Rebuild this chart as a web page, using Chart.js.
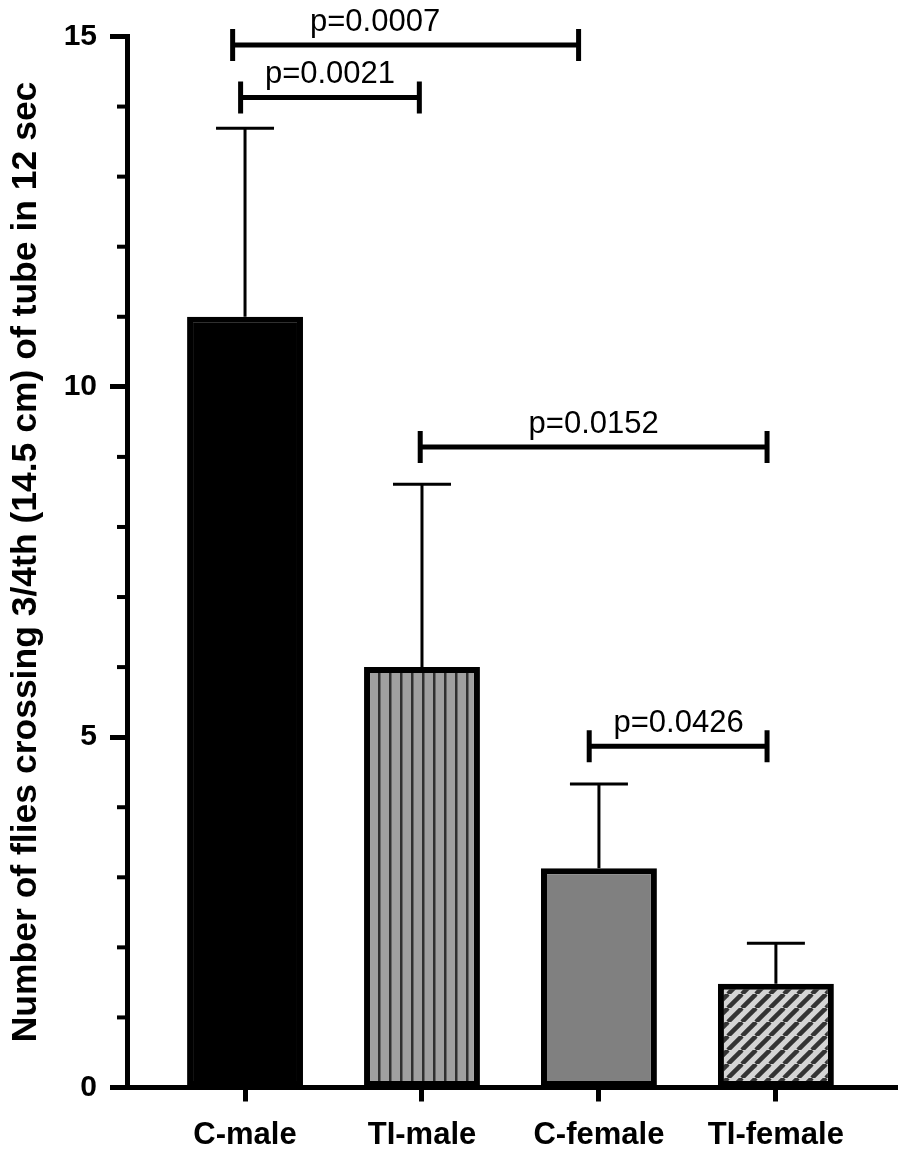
<!DOCTYPE html>
<html>
<head>
<meta charset="utf-8">
<script src="https://cdn.jsdelivr.net/npm/chart.js@4"></script>
<style>
  html, body { margin: 0; padding: 0; background: #fff; }
  #wrap { width: 898px; height: 1157px; position: relative; }
</style>
</head>
<body>
<div id="wrap"><canvas id="myChart"></canvas></div>
<script>
const categories = ['C-male', 'TI-male', 'C-female', 'TI-female'];
const means = [11.0, 6.0, 3.13, 1.48];
const errors = [2.69, 2.61, 1.20, 0.58];
const yTicks = [0, 5, 10, 15];

// significance brackets, in data units (category index / y value)
const pLabels = ['p=0.0007', 'p=0.0021', 'p=0.0152', 'p=0.0426'];
const bracketFrom = [-0.07, -0.025, 0.99, 1.945];
const bracketTo = [1.885, 0.985, 2.95, 2.95];
const bracketY = [14.88, 14.13, 9.14, 4.87];
const pLabelX = [0.735, 0.48, 1.97, 2.45];

const FONT = 'Arial, "Liberation Sans", sans-serif';

function stripePattern(bg, fg, diagonal) {
  const c = document.createElement('canvas');
  const size = diagonal ? 14 : 11;
  c.width = size; c.height = size;
  const g = c.getContext('2d');
  g.fillStyle = bg;
  g.fillRect(0, 0, size, size);
  g.strokeStyle = fg;
  if (diagonal) {
    g.lineWidth = 4.5;
    for (let k = -1; k <= 1; k++) {
      g.beginPath();
      g.moveTo(k * size, size);
      g.lineTo(k * size + size, 0);
      g.stroke();
    }
  } else {
    g.fillStyle = fg;
    g.fillRect(4, 0, 2.5, size);
  }
  return g.createPattern(c, 'repeat');
}

const fills = [
  '#000000',
  stripePattern('#a0a0a0', '#303030', false),
  '#808080',
  stripePattern('#d4d4d4', '#333333', true)
];

const annotations = {
  id: 'annotations',
  afterDatasetsDraw(chart) {
    const { ctx, scales: { x, y } } = chart;
    ctx.save();
    ctx.strokeStyle = '#000';
    ctx.lineCap = 'butt';

    // error bars (upper only)
    ctx.lineWidth = 3;
    means.forEach((m, i) => {
      const px = x.getPixelForValue(i);
      const top = y.getPixelForValue(m + errors[i]);
      ctx.beginPath();
      ctx.moveTo(px, y.getPixelForValue(m));
      ctx.lineTo(px, top);
      ctx.moveTo(px - 29, top);
      ctx.lineTo(px + 29, top);
      ctx.stroke();
    });

    // brackets
    ctx.lineWidth = 5;
    ctx.fillStyle = '#000';
    ctx.font = '31px ' + FONT;
    ctx.textAlign = 'center';
    ctx.textBaseline = 'alphabetic';
    pLabels.forEach((lab, i) => {
      const x0 = x.getPixelForValue(bracketFrom[i]);
      const x1 = x.getPixelForValue(bracketTo[i]);
      const py = y.getPixelForValue(bracketY[i]);
      ctx.beginPath();
      ctx.moveTo(x0, py); ctx.lineTo(x1, py);
      ctx.moveTo(x0, py - 16); ctx.lineTo(x0, py + 16);
      ctx.moveTo(x1, py - 16); ctx.lineTo(x1, py + 16);
      ctx.stroke();
      ctx.fillText(lab, x.getPixelForValue(pLabelX[i]), py - 14);
    });

    // minor y ticks
    ctx.lineWidth = 4;
    for (let v = 0; v <= 15; v++) {
      if (v % 5 === 0) continue;
      const py = y.getPixelForValue(v);
      ctx.beginPath();
      ctx.moveTo(y.right - 10, py);
      ctx.lineTo(y.right, py);
      ctx.stroke();
    }
    ctx.restore();
  }
};

new Chart(document.getElementById('myChart'), {
  type: 'bar',
  data: {
    datasets: [{
      data: means.map((m, i) => ({ x: i, y: m })),
      backgroundColor: fills,
      borderColor: '#000',
      borderWidth: 6,
      borderSkipped: false,
      barPercentage: 0.655,
      categoryPercentage: 1
    }]
  },
  options: {
    responsive: true,
    maintainAspectRatio: false,
    animation: false,
    layout: { padding: { top: 36.5, right: 0, bottom: 0, left: 0 } },
    plugins: { legend: { display: false }, tooltip: { enabled: false } },
    scales: {
      x: {
        type: 'linear',
        offset: false,
        min: -0.667,
        max: 3.69,
        afterBuildTicks: axis => { axis.ticks = categories.map((c, i) => ({ value: i })); },
        afterFit: axis => { axis.height = 69.5; },
        grid: { offset: false, drawOnChartArea: false, tickLength: 14, tickWidth: 5, tickColor: '#000' },
        border: { display: true, color: '#000', width: 5 },
        ticks: {
          autoSkip: false,
          maxRotation: 0,
          padding: 15,
          color: '#000',
          font: { family: FONT, size: 31, weight: 'bold' },
          callback: v => categories[v]
        }
      },
      y: {
        min: 0,
        max: 15,
        afterBuildTicks: axis => { axis.ticks = yTicks.map(v => ({ value: v })); },
        afterFit: axis => { axis.width = 127; },
        grid: { drawOnChartArea: false, tickLength: 17, tickWidth: 5, tickColor: '#000' },
        border: { display: true, color: '#000', width: 5 },
        ticks: {
          padding: 13,
          color: '#000',
          font: { family: FONT, size: 30, weight: 'bold' }
        },
        title: {
          display: true,
          text: 'Number of flies crossing 3/4th (14.5 cm) of tube in 12 sec',
          color: '#000',
          padding: { top: 5, bottom: 0 },
          font: { family: FONT, size: 35.5, weight: 'bold' }
        }
      }
    }
  },
  plugins: [annotations]
});
</script>
</body>
</html>
